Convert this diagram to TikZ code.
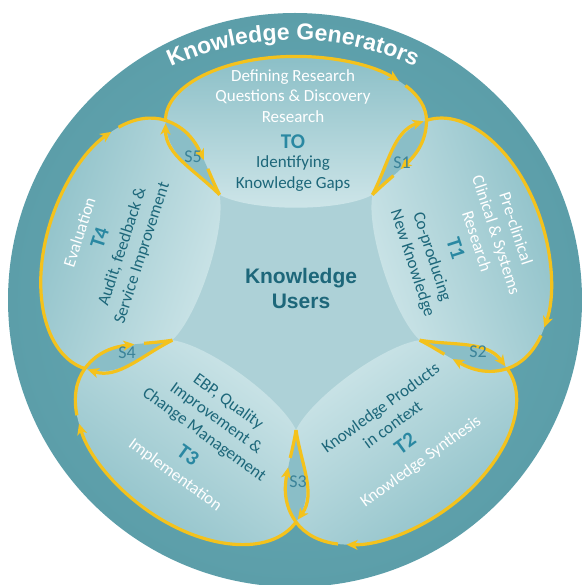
\documentclass[tikz,border=0pt]{standalone}
\usepackage{fontspec}
\setmainfont{Carlito}
\newfontfamily\headfont{Liberation Sans}
\usetikzlibrary{arrows.meta,decorations.text}
\definecolor{ringc}{HTML}{68AEB8}
\definecolor{ringd}{HTML}{5C9EA9}
\definecolor{petalin}{HTML}{CFE6E9}
\definecolor{petalout}{HTML}{8BBFC7}
\definecolor{lensc}{HTML}{8ABEC7}
\definecolor{centerc}{HTML}{ADD1D7}
\definecolor{gold}{HTML}{F4C21C}
\definecolor{darkteal}{HTML}{1D677A}
\definecolor{tlabc}{HTML}{2A88A2}
\definecolor{slabc}{HTML}{3B8399}
\tikzset{
  gl/.style={draw=gold, line width=3.2pt},
  arrowend/.style={-{Stealth[length=11pt,width=10pt,inset=3pt]}},
  wtext/.style={font=\fontsize{17}{20.5}\selectfont, text=white, align=center, inner sep=0pt},
  dtext/.style={font=\fontsize{17}{20.5}\selectfont, text=darkteal, align=center, inner sep=0pt},
  tlab/.style={font=\bfseries\fontsize{21}{21}\selectfont, text=tlabc, inner sep=0pt},
  slab/.style={font=\fontsize{18}{18}\selectfont, text=slabc, inner sep=0pt},
}
\begin{document}
\begin{tikzpicture}[x=1pt,y=1pt]
\useasboundingbox (0,0) rectangle (582,-585);
% outer disc
\shade[inner color=ringc, outer color=ringd] (295,-300) circle[radius=287];
% centre
\fill[centerc] (296,-300) circle[radius=134];
% petals
\foreach \k/\b in {0/64,1/78,2/78,3/78,4/78}{
  \pgfmathsetmacro\ang{-72*\k}
  \begin{scope}[shift={(296,-300)}, rotate=\ang]
    \shade[bottom color=petalin, top color=petalout, shading angle=\ang]
      (-76.4,105.2) .. controls (-101,130) and (-130.5,145) .. (-130.5,179.6)
      arc[start angle=180, end angle=0, x radius=130.5, y radius=\b]
      .. controls (130.5,145) and (101,130) .. (76.4,105.2)
      .. controls (45,88) and (-45,88) .. cycle;
  \end{scope}
}
% lenses
\foreach \k in {0,...,4}{
  \begin{scope}[shift={(296,-300)}, rotate=-72*\k]
    \fill[lensc] (130.5,179.6) .. controls (130.5,145) and (101,130) .. (76.4,105.2)
      .. controls (92.4,136.3) and (97.6,168.9) .. cycle;
  \end{scope}
}
% yellow loops
\foreach \k/\b in {0/64,1/78,2/78,3/78,4/78}{
  \begin{scope}[shift={(296,-300)}, rotate=-72*\k]
    \draw[gl, arrowend, shorten >=3pt] (-76.4,105.2) .. controls (-101,130) and (-130.5,145) .. (-130.5,179.6);
    \draw[gl, arrowend] (-130.5,179.6) arc[start angle=180, end angle=38, x radius=130.5, y radius=\b];
    \draw[gl] ({130.5*cos(33)},{179.6+\b*sin(33)}) arc[start angle=33, end angle=0, x radius=130.5, y radius=\b];
    \draw[gl, arrowend] (130.5,179.6) .. controls (130.5,158.15) and (119.16,144.23) .. (104.68,130.84);
    \draw[gl] (97.46,124.37) .. controls (90.56,118.32) and (83.29,112.14) .. (76.4,105.2);
  \end{scope}
}
% ring title
\path[decorate, decoration={text along path, text align=center,
   text={|\color{white}\headfont\bfseries\fontsize{23}{23}\selectfont|Knowledge Generators}}]
   (293,-330) ++(125:290) arc[start angle=125, end angle=55, radius=290];
% centre title
\node[font=\headfont\bfseries\fontsize{21}{25}\selectfont, text=darkteal, align=center, inner sep=0pt]
  (users) at (301,-288) {Knowledge\\Users};
% T0
\begin{scope}[shift={(296,-300)}]
  \node[wtext] (t0a) at (-3,204) {Defining Research\\Questions \& Discovery\\Research};
  \node[tlab] (t0b) at (-3,158) {TO};
  \node[dtext] (t0c) at (-3,126.5) {Identifying\\Knowledge Gaps};
\end{scope}
% T1
\begin{scope}[shift={(296,-300)}, rotate=-72]
  \node[wtext, rotate=-72] (t1a) at (0,211) {Pre-clinical\\Clinical \& Systems\\Research};
  \node[tlab, rotate=-72] (t1b) at (0,168) {T1};
  \node[dtext, rotate=-72] (t1c) at (1,132) {Co-producing\\New Knowledge};
\end{scope}
% T2
\begin{scope}[shift={(296,-300)}, rotate=-144]
  \node[dtext, rotate=36] (t2a) at (-5,147) {Knowledge Products\\in context};
  \node[tlab, rotate=36] (t2b) at (-4,180) {T2};
  \node[wtext, rotate=36] (t2c) at (-6,204.5) {Knowledge Synthesis};
\end{scope}
% T3
\begin{scope}[shift={(296,-300)}, rotate=-216]
  \node[dtext, rotate=-36] (t3a) at (-5,143) {EBP, Quality\\Improvement \&\\Change Management};
  \node[tlab, rotate=-36] (t3b) at (-4,189) {T3};
  \node[wtext, rotate=-36] (t3c) at (-5,212.7) {Implementation};
\end{scope}
% T4
\begin{scope}[shift={(296,-300)}, rotate=-288]
  \node[wtext, rotate=72] (t4a) at (-2.4,227) {Evaluation};
  \node[tlab, rotate=72] (t4b) at (-1.6,206) {T4};
  \node[dtext, rotate=72] (t4c) at (-3,171) {Audit, feedback \&\\Service Improvement};
\end{scope}
% stage labels
\node[slab] (s1) at (402,-163) {S1};
\node[slab] (s2) at (478,-352) {S2};
\node[slab] (s3) at (298,-482) {S3};
\node[slab] (s4) at (127,-353) {S4};
\node[slab] (s5) at (193,-157) {S5};
\end{tikzpicture}
\end{document}
